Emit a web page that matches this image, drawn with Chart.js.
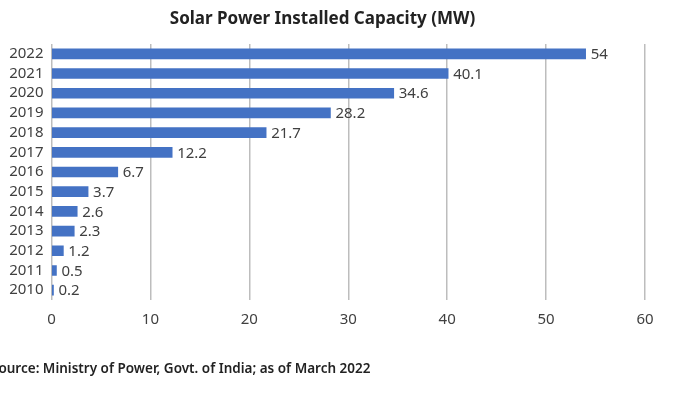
<!DOCTYPE html>
<html>
<head>
<meta charset="utf-8">
<script src="https://cdn.jsdelivr.net/npm/chart.js@4.4.0/dist/chart.umd.min.js"></script>
<style>
  html, body { margin: 0; padding: 0; background: #fff; }
  #wrap { width: 677px; height: 396px; position: relative; }
</style>
</head>
<body>
<div id="wrap"><canvas id="myChart" width="677" height="396"></canvas></div>
<script>
// data
var years = ["2010", "2011", "2012", "2013", "2014", "2015", "2016", "2017", "2018", "2019", "2020", "2021", "2022"];
var capacity = [0.2, 0.5, 1.2, 2.3, 2.6, 3.7, 6.7, 12.2, 21.7, 28.2, 34.6, 40.1, 54];
var xTicks = [0, 10, 20, 30, 40, 50, 60];
var chartTitle = "Solar Power Installed Capacity (MW)";
var sourceNote = "Source: Ministry of Power, Govt. of India; as of March 2022";

var textColor = "#404040";
var fontName = "'Noto Sans', sans-serif";

// value labels at the end of each bar
var valueLabels = {
    id: "valueLabels",
    afterDatasetsDraw: function (chart) {
        var ctx = chart.ctx;
        var meta = chart.getDatasetMeta(0);
        ctx.save();
        ctx.font = "15px " + fontName;
        ctx.fillStyle = textColor;
        ctx.textAlign = "left";
        ctx.textBaseline = "middle";
        meta.data.forEach(function (bar, i) {
            ctx.fillText(String(capacity[i]), bar.x + 5, bar.y + 1);
        });
        ctx.restore();
    }
};

// source line under the chart (starts off the left edge like the original crop)
var sourceLine = {
    id: "sourceLine",
    afterDraw: function (chart) {
        var ctx = chart.ctx;
        ctx.save();
        ctx.font = "600 13.5px " + fontName;
        ctx.fillStyle = "#222";
        ctx.textAlign = "left";
        ctx.textBaseline = "middle";
        ctx.fillText(sourceNote, -9, 369);
        ctx.restore();
    }
};

var ctx = document.getElementById("myChart").getContext("2d");
var myChart = new Chart(ctx, {
    type: "bar",
    data: {
        labels: years,
        datasets: [{
            data: capacity,
            backgroundColor: "#4472C4",
            borderWidth: 0,
            barThickness: 10
        }]
    },
    options: {
        indexAxis: "y",
        responsive: false,
        animation: false,
        layout: { padding: { left: 0, right: 32, top: 0, bottom: 0 } },
        plugins: {
            legend: { display: false },
            tooltip: { enabled: false },
            title: {
                display: true,
                text: chartTitle,
                color: "#222",
                font: { family: fontName, size: 17, weight: "bold" },
                padding: { top: 9, bottom: 14.6 }
            }
        },
        scales: {
            x: {
                min: xTicks[0],
                max: xTicks[xTicks.length - 1],
                afterBuildTicks: function (scale) {
                    scale.ticks = xTicks.map(function (v) { return { value: v }; });
                },
                grid: { color: "#BDBDBD", lineWidth: 1.5, drawTicks: false },
                border: { display: false },
                ticks: {
                    color: textColor,
                    padding: 11,
                    font: { family: fontName, size: 15 }
                },
                afterFit: function (scale) { scale.height = 96; }
            },
            y: {
                reverse: true,
                grid: { display: false, drawTicks: false },
                border: { display: false },
                ticks: {
                    autoSkip: false,
                    color: textColor,
                    padding: 8,
                    font: { family: fontName, size: 15 }
                },
                afterFit: function (scale) { scale.width = 51.5; }
            }
        }
    },
    plugins: [valueLabels, sourceLine]
});
</script>
</body>
</html>
